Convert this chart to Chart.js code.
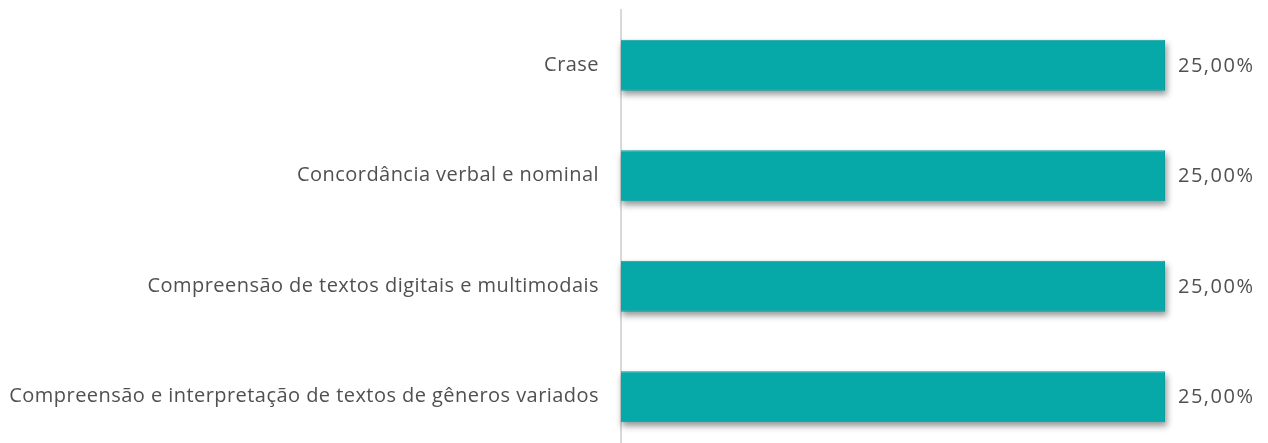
<!DOCTYPE html>
<html>
<head>
<meta charset="utf-8">
<script src="https://cdn.jsdelivr.net/npm/chart.js@4"></script>
<style>
  html, body { margin: 0; padding: 0; background: #fff; overflow: hidden; }
  #wrap { width: 1268px; height: 443px; overflow: hidden; }
  #box { width: 1268px; height: 452px; }
</style>
</head>
<body>
<div id="wrap"><div id="box"><canvas id="chart"></canvas></div></div>
<script>
const categories = [
  "Crase",
  "Concordância verbal e nominal",
  "Compreensão de textos digitais e multimodais",
  "Compreensão e interpretação de textos de gêneros variados",
];
const percentages = [25, 25, 25, 25];

const FONT = "'Open Sans', Lato, sans-serif";

// slightly looser tracking for the category labels
const spacingPlugin = {
  id: "spacing",
  beforeDraw(chart) {
    chart.ctx.letterSpacing = "0.45px";
  },
};

// soft drop shadow under bars
const shadowPlugin = {
  id: "barShadow",
  beforeDatasetsDraw(chart) {
    const ctx = chart.ctx;
    const meta = chart.getDatasetMeta(0);
    ctx.save();
    ctx.filter = "blur(3px)";
    ctx.fillStyle = "rgba(0,0,0,0.4)";
    meta.data.forEach((bar) => {
      const h = bar.height;
      ctx.fillRect(bar.base + 1, bar.y - h / 2 + 4, bar.x - bar.base + 1, h);
    });
    ctx.restore();
  },
};

// value labels to the right of the bars
const valueLabels = {
  id: "valueLabels",
  afterDatasetsDraw(chart) {
    const ctx = chart.ctx;
    const meta = chart.getDatasetMeta(0);
    ctx.save();
    ctx.letterSpacing = "1.5px";
    ctx.font = "20px " + FONT;
    ctx.fillStyle = "#505050";
    ctx.textAlign = "left";
    ctx.textBaseline = "middle";
    meta.data.forEach((bar, i) => {
      const txt = percentages[i].toFixed(2).replace(".", ",") + "%";
      ctx.fillText(txt, bar.x + 13, bar.y + 1);
    });
    ctx.restore();
  },
};

document.addEventListener("DOMContentLoaded", () => {
  new Chart(document.getElementById("chart"), {
    type: "bar",
    data: {
      labels: categories,
      datasets: [
        {
          data: percentages,
          backgroundColor: "#07a8a8",
          borderColor: "#0a9e9e",
          borderWidth: 1,
          barPercentage: 0.46,
          categoryPercentage: 1,
        },
      ],
    },
    options: {
      indexAxis: "y",
      responsive: true,
      maintainAspectRatio: false,
      animation: false,
      layout: { padding: { top: 10, right: 103, left: 8, bottom: 0 } },
      plugins: {
        legend: { display: false },
        tooltip: { enabled: false },
      },
      scales: {
        x: {
          display: false,
          min: 0,
          max: 25,
        },
        y: {
          grid: { display: false, drawTicks: false },
          border: { display: true, color: "#d9d9d9", width: 2 },
          ticks: {
            color: "#505050",
            font: { family: FONT, size: 20 },
            padding: 22,
          },
          afterFit(scale) {
            scale.paddingTop = 0;
            scale.paddingBottom = 0;
            scale.width = 613;
          },
        },
      },
    },
    plugins: [spacingPlugin, shadowPlugin, valueLabels],
  });
});
</script>
</body>
</html>
